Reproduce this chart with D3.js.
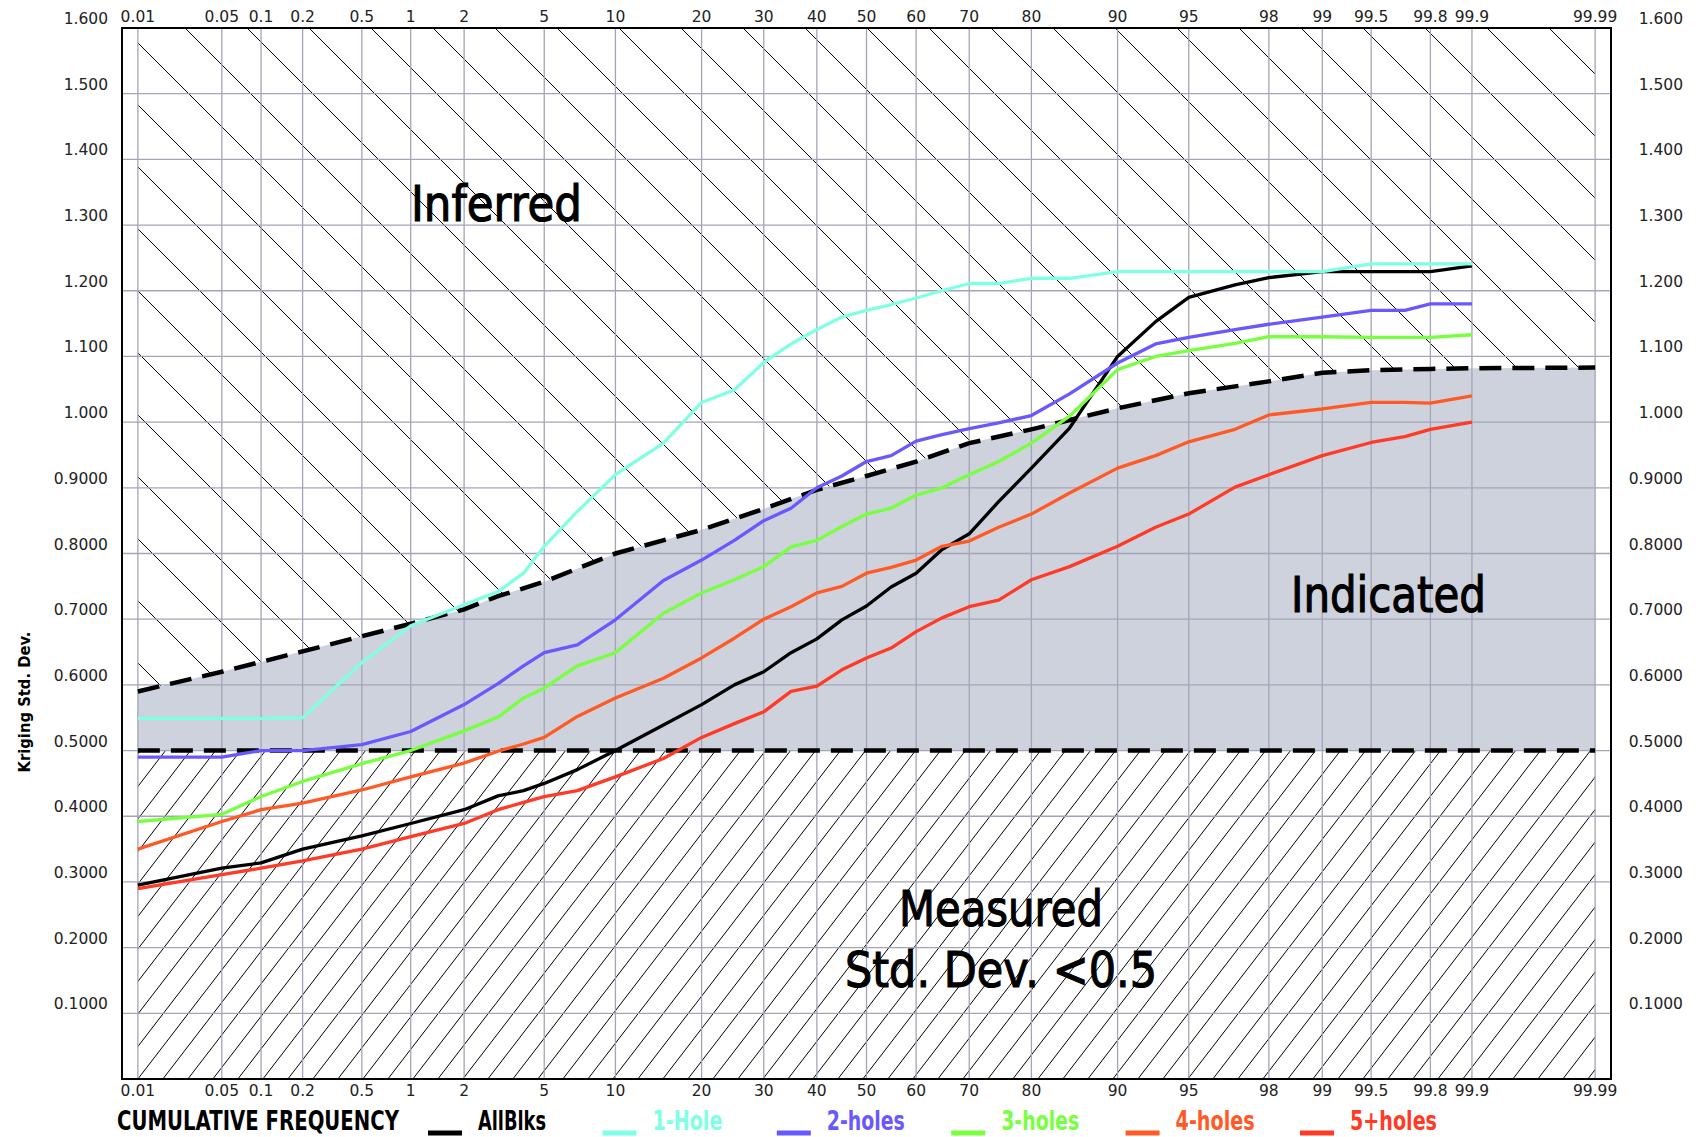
<!DOCTYPE html>
<html>
<head>
<meta charset="utf-8">
<script src="https://cdn.jsdelivr.net/npm/d3@7"></script>
<style>
  body { margin: 0; background: #fff; }
  text { font-family: "DejaVu Sans", Verdana, sans-serif; }
</style>
</head>
<body>
<svg id="chart" width="1699" height="1137"></svg>
<script>
// ---- data ----
var probTicks = [0.01, 0.05, 0.1, 0.2, 0.5, 1, 2, 5, 10, 20, 30, 40, 50, 60, 70, 80, 90, 95, 98, 99, 99.5, 99.8, 99.9, 99.99];
var stdTicks = [0.1, 0.2, 0.3, 0.4, 0.5, 0.6, 0.7, 0.8, 0.9, 1.0, 1.1, 1.2, 1.3, 1.4, 1.5, 1.6];

var cumFreq = [0.01, 0.05, 0.1, 0.2, 0.5, 1, 2, 3, 4, 5, 7, 10, 15, 20, 25, 30, 35, 40, 45, 50,
               55, 60, 65, 70, 75, 80, 85, 90, 93, 95, 97, 98, 99, 99.5, 99.7, 99.8, 99.9];

var allBlks = [0.295, 0.321, 0.329, 0.350, 0.370, 0.389, 0.410, 0.431, 0.439, 0.450, 0.471, 0.500, 0.539, 0.570, 0.600, 0.620, 0.649, 0.670, 0.699, 0.720,
               0.749, 0.770, 0.806, 0.830, 0.879, 0.930, 0.991, 1.100, 1.153, 1.190, 1.209, 1.220, 1.229, 1.229, 1.229, 1.229, 1.238];
var oneHole = [0.549, 0.549, 0.549, 0.550, 0.634, 0.690, 0.722, 0.742, 0.770, 0.811, 0.864, 0.920, 0.968, 1.030, 1.049, 1.091, 1.119, 1.141, 1.160, 1.170,
               1.179, 1.189, 1.200, 1.211, 1.211, 1.219, 1.219, 1.229, 1.229, 1.229, 1.229, 1.229, 1.229, 1.241, 1.241, 1.241, 1.241];
var twoHoles = [0.490, 0.490, 0.500, 0.500, 0.509, 0.529, 0.570, 0.602, 0.629, 0.649, 0.661, 0.699, 0.759, 0.790, 0.820, 0.850, 0.869, 0.900, 0.918, 0.940,
                0.949, 0.971, 0.981, 0.990, 0.999, 1.010, 1.043, 1.090, 1.119, 1.129, 1.141, 1.149, 1.160, 1.170, 1.170, 1.180, 1.180];
var threeHoles = [0.392, 0.403, 0.430, 0.453, 0.480, 0.500, 0.530, 0.551, 0.580, 0.595, 0.629, 0.649, 0.709, 0.740, 0.760, 0.780, 0.810, 0.820, 0.841, 0.860,
                  0.869, 0.889, 0.900, 0.920, 0.940, 0.968, 1.009, 1.080, 1.100, 1.109, 1.120, 1.130, 1.130, 1.129, 1.129, 1.129, 1.133];
var fourHoles = [0.350, 0.392, 0.410, 0.420, 0.440, 0.460, 0.481, 0.499, 0.510, 0.520, 0.552, 0.580, 0.610, 0.641, 0.671, 0.700, 0.719, 0.740, 0.750, 0.770,
                 0.779, 0.790, 0.811, 0.819, 0.840, 0.860, 0.892, 0.930, 0.949, 0.970, 0.989, 1.011, 1.020, 1.030, 1.030, 1.029, 1.040];
var fivePlusHoles = [0.290, 0.311, 0.321, 0.332, 0.350, 0.369, 0.389, 0.410, 0.421, 0.430, 0.439, 0.460, 0.488, 0.520, 0.541, 0.559, 0.590, 0.598, 0.623, 0.641,
                     0.656, 0.681, 0.702, 0.719, 0.729, 0.760, 0.780, 0.811, 0.840, 0.860, 0.901, 0.920, 0.949, 0.969, 0.978, 0.989, 1.000];

// upper (indicated / inferred) boundary, dashed
var boundFreq = [0.01, 0.05, 0.1, 0.2, 0.5, 1, 2, 3, 5, 10, 20, 30, 40, 50, 60, 70, 80, 90, 95, 98, 99, 99.5, 99.8, 99.9, 99.99];
var boundStd  = [0.590, 0.620, 0.635, 0.651, 0.674, 0.693, 0.715, 0.735, 0.757, 0.800, 0.836, 0.868, 0.897, 0.918, 0.940, 0.968, 0.989, 1.021, 1.044, 1.062, 1.075, 1.079, 1.081, 1.082, 1.083];
var measuredLimit = 0.5;

var seriesNames  = ["AllBlks", "1-Hole", "2-holes", "3-holes", "4-holes", "5+holes"];
var seriesValues = [allBlks, oneHole, twoHoles, threeHoles, fourHoles, fivePlusHoles];
var seriesColors = ["#000000", "#80ffe4", "#6a58ff", "#78ff40", "#ff5a26", "#ff3a26"];

// inverse normal cdf (Acklam) for the probability axis
function probit(p) {
    var a = [-39.69683028665376, 220.9460984245205, -275.9285104469687, 138.3577518672690, -30.66479806614716, 2.506628277459239];
    var b = [-54.47609879822406, 161.5858368580409, -155.6989798598866, 66.80131188771972, -13.28068155288572];
    var c = [-0.007784894002430293, -0.3223964580411365, -2.400758277161838, -2.549732539343734, 4.374664141464968, 2.938163982698783];
    var d = [0.007784695709041462, 0.3224671290700398, 2.445134137142996, 3.754408661907416];
    var pl = 0.02425, q, r;
    if (p < pl) {
        q = Math.sqrt(-2 * Math.log(p));
        return (((((c[0]*q+c[1])*q+c[2])*q+c[3])*q+c[4])*q+c[5]) / ((((d[0]*q+d[1])*q+d[2])*q+d[3])*q+1);
    }
    if (p > 1 - pl) {
        q = Math.sqrt(-2 * Math.log(1 - p));
        return -(((((c[0]*q+c[1])*q+c[2])*q+c[3])*q+c[4])*q+c[5]) / ((((d[0]*q+d[1])*q+d[2])*q+d[3])*q+1);
    }
    q = p - 0.5; r = q * q;
    return (((((a[0]*r+a[1])*r+a[2])*r+a[3])*r+a[4])*r+a[5])*q / (((((b[0]*r+b[1])*r+b[2])*r+b[3])*r+b[4])*r+1);
}

(function() {
    var plotL = 122, plotR = 1611, plotT = 28, plotB = 1079;
    var scaleZ = d3.scaleLinear().domain([-3.8, 3.8]).range([plotL, plotR]);
    var x = function(p) { return scaleZ(probit(p / 100)); };
    var y = d3.scaleLinear().domain([0, 1.6]).range([plotB, plotT]);

    var svg = d3.select('#chart');
    var xa = x(probTicks[0]), xb = x(probTicks[probTicks.length - 1]);

    var bound = boundFreq.map(function(f, i) { return [f, boundStd[i]]; });

    // gray "indicated" band
    svg.append('path')
        .datum(bound)
        .attr('fill', '#ced2dc')
        .attr('d', d3.area().x(function(d) { return x(d[0]); })
            .y0(y(measuredLimit)).y1(function(d) { return y(d[1]); }));

    // hatch clip regions
    var defs = svg.append('defs');
    defs.append('clipPath').attr('id', 'clipUp')
        .append('path').datum(bound)
        .attr('d', d3.area().x(function(d) { return x(d[0]); })
            .y0(y(1.6)).y1(function(d) { return y(d[1]); }));
    defs.append('clipPath').attr('id', 'clipDown')
        .append('rect').attr('x', xa).attr('y', y(measuredLimit))
        .attr('width', xb - xa).attr('height', y(0) - y(measuredLimit));

    // "\" hatch above the boundary
    var gUp = svg.append('g').attr('clip-path', 'url(#clipUp)')
        .attr('stroke', '#000').attr('stroke-width', 1);
    for (var cc = 29 - 62 * 30; cc < plotB; cc += 62) {
        gUp.append('line').attr('x1', plotL).attr('y1', plotL + cc)
            .attr('x2', plotR).attr('y2', plotR + cc);
    }
    // "/" hatch below 0.5
    var slope = 1.3, gap = 25;
    var gDown = svg.append('g').attr('clip-path', 'url(#clipDown)')
        .attr('stroke', '#000').attr('stroke-width', 1);
    for (var k = 0; k < 90; k++) {
        var x0 = xa - 300 + k * gap;
        gDown.append('line').attr('x1', x0).attr('y1', y(0))
            .attr('x2', x0 + (y(0) - y(measuredLimit)) / slope).attr('y2', y(measuredLimit));
    }

    // grid
    var grid = svg.append('g').attr('stroke', '#a4a4b8').attr('stroke-width', 1.3);
    grid.selectAll('.v').data(probTicks).enter().append('line')
        .attr('x1', x).attr('x2', x).attr('y1', plotT).attr('y2', plotB);
    grid.selectAll('.h').data(stdTicks).enter().append('line')
        .attr('x1', plotL).attr('x2', plotR).attr('y1', y).attr('y2', y);

    // frame
    svg.append('rect').attr('x', plotL).attr('y', plotT)
        .attr('width', plotR - plotL).attr('height', plotB - plotT)
        .attr('fill', 'none').attr('stroke', '#000').attr('stroke-width', 2);

    // dashed class limits
    svg.append('path').datum(bound)
        .attr('fill', 'none').attr('stroke', '#000').attr('stroke-width', 4.5)
        .attr('stroke-dasharray', '22,11')
        .attr('d', d3.line().x(function(d) { return x(d[0]); }).y(function(d) { return y(d[1]); }));
    svg.append('line')
        .attr('x1', xa).attr('x2', xb).attr('y1', y(measuredLimit)).attr('y2', y(measuredLimit))
        .attr('stroke', '#000').attr('stroke-width', 4.5).attr('stroke-dasharray', '22,11');

    // series lines
    var line = d3.line().x(function(d) { return x(d[0]); }).y(function(d) { return y(d[1]); });
    seriesValues.forEach(function(vals, i) {
        svg.append('path')
            .datum(cumFreq.map(function(f, j) { return [f, vals[j]]; }))
            .attr('fill', 'none').attr('stroke', seriesColors[i]).attr('stroke-width', 3.3)
            .attr('stroke-linejoin', 'round')
            .attr('d', line);
    });

    // axis labels
    var fmt = function(v) { return v >= 1 ? v.toFixed(3) : v.toFixed(4); };
    var lab = svg.append('g').attr('font-size', 15.5).attr('fill', '#222');
    lab.selectAll('.t').data(probTicks).enter().append('text')
        .attr('x', x).attr('y', 22).attr('text-anchor', 'middle').text(String);
    lab.selectAll('.b').data(probTicks).enter().append('text')
        .attr('x', x).attr('y', 1096).attr('text-anchor', 'middle').text(String);
    lab.selectAll('.l').data(stdTicks).enter().append('text')
        .attr('x', 108).attr('y', function(d) { return y(d) - 4; })
        .attr('text-anchor', 'end').text(fmt);
    lab.selectAll('.r').data(stdTicks).enter().append('text')
        .attr('x', 1683).attr('y', function(d) { return y(d) - 4; })
        .attr('text-anchor', 'end').text(fmt);

    svg.append('text')
        .attr('transform', 'translate(30,702) rotate(-90)')
        .attr('text-anchor', 'middle').attr('font-size', 15).attr('font-weight', 'bold')
        .attr('textLength', 141).attr('lengthAdjust', 'spacingAndGlyphs')
        .text('Kriging Std. Dev.');

    // region labels
    var big = svg.append('g').attr('font-size', 50)
        .style('font-family', '"DejaVu Sans Condensed", "DejaVu Sans", sans-serif')
        .attr('fill', '#000').attr('stroke', '#000').attr('stroke-width', 1.2);
    big.append('text').attr('x', 411).attr('y', 221)
        .attr('textLength', 171).attr('lengthAdjust', 'spacingAndGlyphs').text('Inferred');
    big.append('text').attr('x', 1291).attr('y', 612)
        .attr('textLength', 195).attr('lengthAdjust', 'spacingAndGlyphs').text('Indicated');
    big.append('text').attr('x', 899).attr('y', 926)
        .attr('textLength', 204).attr('lengthAdjust', 'spacingAndGlyphs').text('Measured');
    big.append('text').attr('x', 845).attr('y', 987)
        .attr('textLength', 312).attr('lengthAdjust', 'spacingAndGlyphs').text('Std. Dev. <0.5');

    // legend
    var leg = svg.append('g')
        .style('font-family', '"DejaVu Sans Condensed", "DejaVu Sans", sans-serif')
        .attr('font-weight', 'bold').attr('font-size', 26);
    leg.append('text').attr('x', 117).attr('y', 1130)
        .attr('textLength', 282).attr('lengthAdjust', 'spacingAndGlyphs').text('CUMULATIVE FREQUENCY');
    var legTextW = [68, 70, 78, 78, 79, 87];
    seriesNames.forEach(function(n, i) {
        var lx = 428 + i * 174.4;
        leg.append('line').attr('x1', lx).attr('x2', lx + 34).attr('y1', 1133).attr('y2', 1133)
            .attr('stroke', seriesColors[i]).attr('stroke-width', 5);
        leg.append('text').attr('x', lx + 50).attr('y', 1130).attr('fill', seriesColors[i])
            .attr('textLength', legTextW[i]).attr('lengthAdjust', 'spacingAndGlyphs').text(n);
    });
})();
</script>
</body>
</html>
